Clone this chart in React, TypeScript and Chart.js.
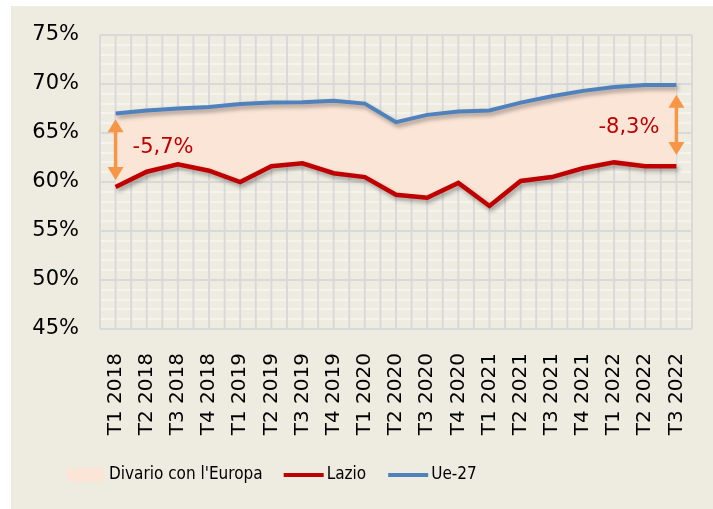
import React, { useEffect, useRef } from "react";
import { Chart, registerables } from "chart.js";

Chart.register(...registerables);

const categories = [
  "T1 2018", "T2 2018", "T3 2018", "T4 2018",
  "T1 2019", "T2 2019", "T3 2019", "T4 2019",
  "T1 2020", "T2 2020", "T3 2020", "T4 2020",
  "T1 2021", "T2 2021", "T3 2021", "T4 2021",
  "T1 2022", "T2 2022", "T3 2022",
];

const lazio = [59.5, 61.05, 61.8, 61.15, 60.0, 61.6, 61.9, 60.9, 60.5, 58.7, 58.4, 59.9, 57.55, 60.1, 60.5, 61.4, 62.0, 61.6, 61.6];
const ue27 = [67.0, 67.3, 67.5, 67.65, 67.95, 68.1, 68.15, 68.3, 68.0, 66.1, 66.85, 67.2, 67.3, 68.1, 68.75, 69.3, 69.7, 69.9, 69.9];

const yMin = 45;
const yMax = 75;
const yMajorStep = 5;

const legendLabels = ["Divario con l'Europa", "Lazio", "Ue-27"];

const gapLabels = ["-5,7%", "-8,3%"];
const gapIndex = [0, 18];
const gapArrowTop = [66.4, 68.9];
const gapArrowBottom = [60.2, 62.75];
const gapLabelY = [63.5, 65.6];

const RED = "#c00000";
const BLUE = "#4f81bd";
const PEACH = "#fbe5d6";
const ORANGE = "#f79646";
const BG = "#eeece1";
const GRID = "#d9d9d9";

export default function App() {
  const ref = useRef<HTMLCanvasElement | null>(null);

  useEffect(() => {
    const canvas = ref.current;
    if (!canvas) return;

    const bgPlugin = {
      id: "bgPlugin",
      beforeDraw(chart: any) {
        const ctx = chart.ctx;
        ctx.save();
        ctx.fillStyle = "#ffffff";
        ctx.fillRect(0, 0, chart.width, chart.height);
        ctx.fillStyle = BG;
        ctx.fillRect(11, 6, chart.width - 11, chart.height - 6);
        ctx.restore();
      },
      beforeDatasetsDraw(chart: any) {
        const ctx = chart.ctx;
        const xs = chart.scales.x;
        const area = chart.chartArea;
        const n = categories.length;
        const step = (area.right - area.left) / n;
        ctx.save();
        ctx.strokeStyle = GRID;
        ctx.lineWidth = 2;
        ctx.beginPath();
        for (let i = 0; i < n; i++) {
          const c = xs.getPixelForValue(i);
          ctx.moveTo(c - step / 2, area.top);
          ctx.lineTo(c - step / 2, area.bottom);
          ctx.moveTo(c, area.top);
          ctx.lineTo(c, area.bottom);
          if (i === n - 1) {
            ctx.moveTo(c + step / 2, area.top);
            ctx.lineTo(c + step / 2, area.bottom);
          }
        }
        ctx.stroke();
        ctx.restore();
      },
      beforeDatasetDraw(chart: any) {
        const ctx = chart.ctx;
        ctx.save();
        ctx.shadowColor = "rgba(0,0,0,0.35)";
        ctx.shadowBlur = 4;
        ctx.shadowOffsetX = 2;
        ctx.shadowOffsetY = 3;
      },
      afterDatasetDraw(chart: any) {
        chart.ctx.restore();
      },
      afterDatasetsDraw(chart: any) {
        const ctx = chart.ctx;
        const xs = chart.scales.x;
        const ys = chart.scales.y;
        ctx.save();
        for (let k = 0; k < gapLabels.length; k++) {
          const x = xs.getPixelForValue(gapIndex[k]);
          const y1 = ys.getPixelForValue(gapArrowTop[k]);
          const y2 = ys.getPixelForValue(gapArrowBottom[k]);
          const hl = 13;
          const hw = 8;
          ctx.strokeStyle = ORANGE;
          ctx.fillStyle = ORANGE;
          ctx.lineWidth = 3.5;
          ctx.beginPath();
          ctx.moveTo(x, y1 + hl - 1);
          ctx.lineTo(x, y2 - hl + 1);
          ctx.stroke();
          ctx.beginPath();
          ctx.moveTo(x, y1);
          ctx.lineTo(x - hw, y1 + hl);
          ctx.lineTo(x + hw, y1 + hl);
          ctx.closePath();
          ctx.fill();
          ctx.beginPath();
          ctx.moveTo(x, y2);
          ctx.lineTo(x - hw, y2 - hl);
          ctx.lineTo(x + hw, y2 - hl);
          ctx.closePath();
          ctx.fill();

          ctx.fillStyle = RED;
          ctx.font = "21px 'DejaVu Sans'";
          ctx.textBaseline = "middle";
          const ly = ys.getPixelForValue(gapLabelY[k]);
          if (k === 0) {
            ctx.textAlign = "left";
            ctx.fillText(gapLabels[k], x + 17, ly);
          } else {
            ctx.textAlign = "right";
            ctx.fillText(gapLabels[k], x - 17, ly);
          }
        }
        ctx.restore();

        // legend
        ctx.save();
        const ly = 475;
        let cx = 67;
        ctx.font = "17px 'DejaVu Sans Condensed', 'DejaVu Sans', sans-serif";
        ctx.textBaseline = "middle";
        ctx.textAlign = "left";
        ctx.fillStyle = PEACH;
        ctx.fillRect(cx, ly - 7, 37, 14);
        cx += 37 + 5;
        ctx.fillStyle = "#000";
        ctx.fillText(legendLabels[0], cx, ly);
        cx += ctx.measureText(legendLabels[0]).width + 21;
        ctx.strokeStyle = RED;
        ctx.lineWidth = 4;
        ctx.beginPath();
        ctx.moveTo(cx, ly);
        ctx.lineTo(cx + 40, ly);
        ctx.stroke();
        cx += 40 + 3;
        ctx.fillText(legendLabels[1], cx, ly);
        cx += ctx.measureText(legendLabels[1]).width + 22;
        ctx.strokeStyle = BLUE;
        ctx.lineWidth = 4;
        ctx.beginPath();
        ctx.moveTo(cx, ly);
        ctx.lineTo(cx + 40, ly);
        ctx.stroke();
        cx += 40 + 3;
        ctx.fillText(legendLabels[2], cx, ly);
        ctx.restore();
      },
    };

    const chart = new Chart(canvas, {
      type: "line",
      data: {
        labels: categories,
        datasets: [
          {
            label: legendLabels[1],
            data: lazio,
            borderColor: RED,
            borderWidth: 4.5,
            pointRadius: 0,
            tension: 0,
            fill: false,
          },
          {
            label: legendLabels[2],
            data: ue27,
            borderColor: BLUE,
            borderWidth: 4,
            pointRadius: 0,
            tension: 0,
            fill: { target: 0 },
            backgroundColor: PEACH,
          },
        ],
      },
      options: {
        animation: false,
        responsive: true,
        maintainAspectRatio: false,
        layout: { padding: { left: 11, right: 21, top: 35, bottom: 60 } },
        plugins: {
          legend: { display: false },
          tooltip: { enabled: false },
        },
        scales: {
          x: {
            type: "category",
            offset: true,
            grid: { display: false },
            border: { display: false },
            ticks: {
              autoSkip: false,
              maxRotation: 90,
              minRotation: 90,
              padding: 16,
              color: "#000",
              font: { family: "'DejaVu Sans'", size: 20 },
            },
            afterFit(scale: any) {
              scale.height = 120;
              scale.paddingLeft = 0;
              scale.paddingRight = 0;
            },
          },
          y: {
            min: yMin,
            max: yMax,
            border: { display: false },
            grid: {
              drawTicks: false,
              lineWidth: 2,
              color: (c: any) =>
                c.tick && c.tick.value % yMajorStep === 0 ? GRID : "rgba(255,255,255,0.4)",
            },
            ticks: {
              stepSize: 1,
              autoSkip: false,
              padding: 21,
              color: "#000",
              font: { family: "'DejaVu Sans'", size: 21 },
              callback: (v: any) => (Number(v) % yMajorStep === 0 ? v + "%" : ""),
            },
            afterFit(scale: any) {
              scale.width = 89;
            },
          },
        },
      },
      plugins: [bgPlugin],
    });

    return () => chart.destroy();
  }, []);

  return (
    <div style={{ position: "absolute", left: 0, top: 0, width: 713, height: 509 }}>
      <canvas ref={ref} />
    </div>
  );
}
